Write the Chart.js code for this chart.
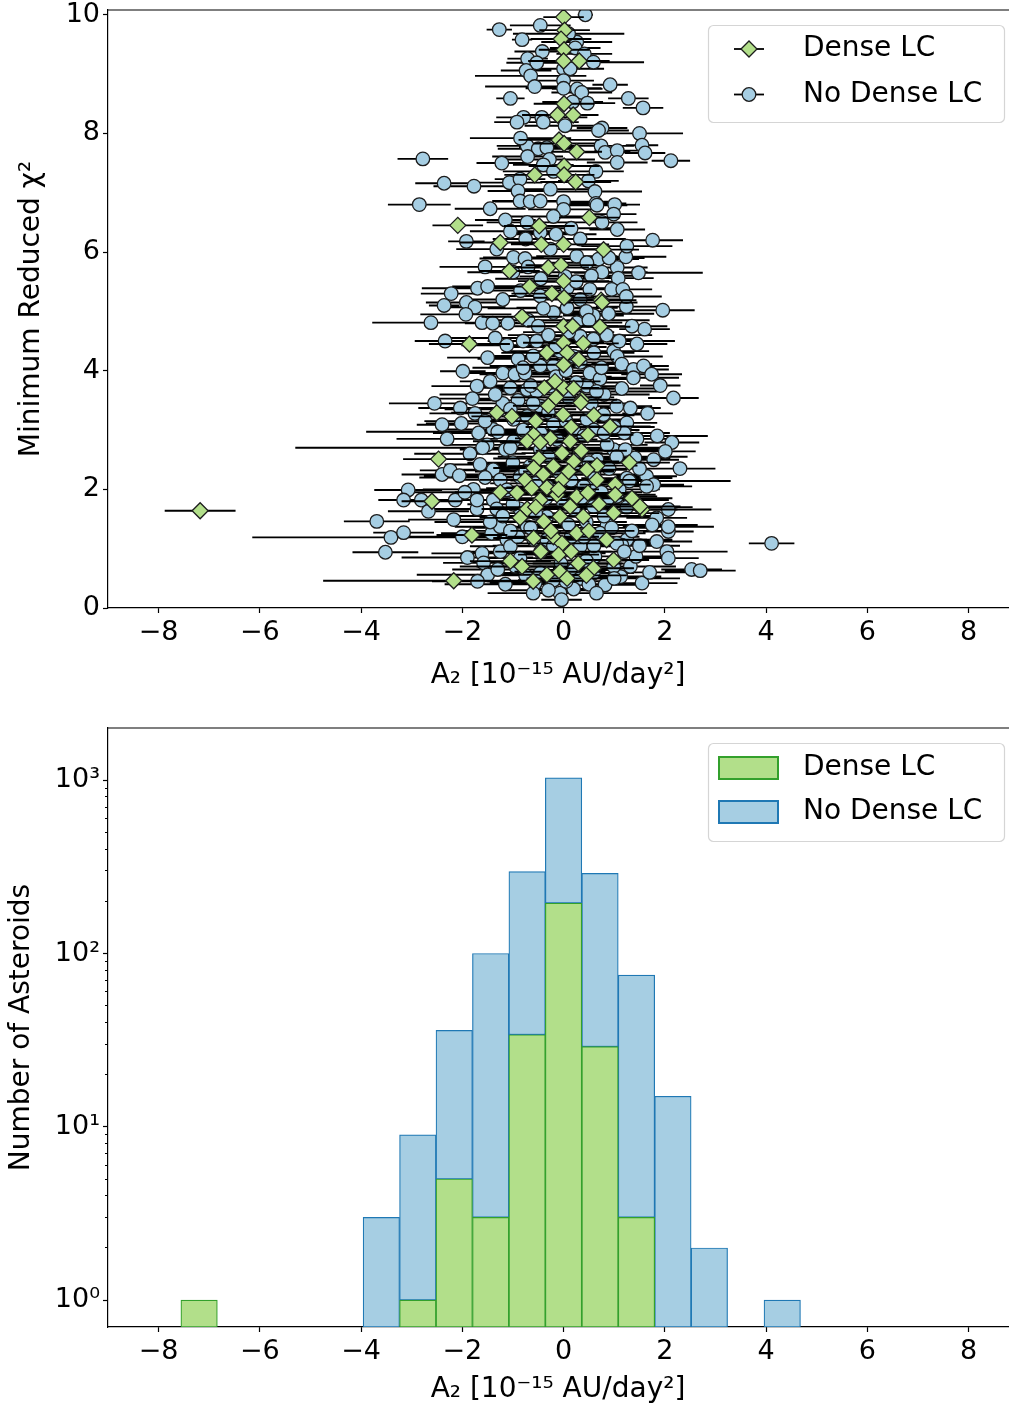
<!DOCTYPE html>
<html>
<head>
<meta charset="utf-8">
<script src="https://cdn.jsdelivr.net/npm/chart.js@4.4.1/dist/chart.umd.min.js"></script>
<style>
  body { margin: 0; background: #fff; }
  canvas { position: absolute; left: 0; }
  #scatterCanvas { top: 0; }
  #histCanvas { top: 710px; }
</style>
</head>
<body>
<canvas id="scatterCanvas" width="1009" height="710"></canvas>
<canvas id="histCanvas" width="1009" height="702"></canvas>
<script>
// ---- tick labels ----
const xTicks = [-8, -6, -4, -2, 0, 2, 4, 6, 8];
const chiTicks = [0, 2, 4, 6, 8, 10];
const countTicks = [1, 10, 100, 1000];
const minorCountTicks = [2, 3, 4, 5, 6, 7, 8, 9, 20, 30, 40, 50, 60, 70, 80, 90, 200, 300, 400, 500, 600, 700, 800, 900];

// ---- top panel: Dense LC (A2, min reduced chi2, A2 error) ----
const denseA2 = [
  0.00, 0.02, -0.05, 0.01, 0.00, 0.31, 0.01, -0.12, 0.19, -0.09,
  0.01, 0.26, -0.57, 0.01, 0.01, 0.24, -2.09, -0.48, 0.51, -1.25,
  -0.44, 0.00, 0.79, -1.07, -0.30, -0.05, 0.00, -0.67, -0.23, 0.01,
  0.74, -0.82, 0.00, 0.18, 0.72, -1.86, 0.00, 0.39, -0.33, 0.07,
  0.30, 0.00, -0.38, 0.00, -0.17, 0.76, 0.36, 0.92, 0.48, 0.66,
  1.02, 0.99, 1.55, 1.35, 0.99, 0.59, 0.29, -1.32, -1.02, -0.30,
  -0.01, 0.34, 0.13, -0.59, -0.26, -0.72, -0.46, -2.47, -0.49, -0.03,
  0.20, -0.59, -0.20, 0.46, -0.76, -0.03, 0.66, -0.92, -0.63, -0.33,
  -0.13, 0.26, 0.48, 1.02, 1.51, -2.60, -0.72, -0.46, 0.13, -0.86,
  -0.39, -0.07, 0.39, -1.81, -0.59, -0.20, 0.26, -0.03, -0.10, -1.05,
  -0.82, -0.33, -0.07, 0.07, -2.17, -7.18, -0.15, 0.20, -0.55, 0.60,
  0.15, -0.40, 0.35, -0.10, 0.10, 0.70, -0.55, -0.25, 0.50, 0.15,
  -0.45, 0.45, -0.60, 0.85, -1.25, 1.30
];
const denseChi2 = [
  9.96, 9.74, 9.59, 9.41, 9.22, 9.22, 8.50, 8.31, 8.31, 7.89,
  7.83, 7.69, 7.30, 7.45, 7.30, 7.18, 6.45, 6.44, 6.58, 6.16,
  6.13, 6.13, 6.04, 5.68, 5.74, 5.78, 5.51, 5.42, 5.30, 5.23,
  5.19, 4.91, 4.75, 4.75, 4.74, 4.45, 4.47, 4.46, 4.30, 4.30,
  4.19, 4.10, 3.71, 3.71, 3.82, 5.15, 3.51, 3.06, 2.92, 2.40,
  2.08, 1.60, 1.66, 1.85, 0.81, 0.67, 0.75, 3.29, 3.23, 3.41,
  3.26, 3.46, 2.81, 2.92, 2.86, 2.81, 2.79, 2.51, 2.52, 2.61,
  2.47, 2.36, 2.39, 2.33, 2.16, 2.16, 2.16, 1.94, 2.02, 2.03,
  1.91, 1.88, 1.94, 1.91, 1.71, 1.80, 1.67, 1.82, 1.71, 1.52,
  1.46, 1.54, 1.54, 1.23, 1.18, 1.20, 1.26, 1.09, 0.90, 0.79,
  0.70, 0.56, 0.61, 0.50, 0.46, 1.64, 3.55, 3.70, 3.15, 3.25,
  3.05, 2.25, 2.65, 2.00, 2.30, 1.75, 1.70, 1.30, 1.30, 0.95,
  0.95, 0.55, 0.45, 1.15, 1.95, 2.45
];
const denseErr = [
  0.4, 0.5, 0.6, 0.5, 0.7, 0.6, 0.6, 0.7, 0.5, 0.8,
  0.6, 0.5, 0.6, 0.7, 0.6, 0.7, 0.5, 0.7, 0.6, 0.8,
  0.6, 0.9, 0.7, 0.6, 0.8, 0.7, 0.9, 0.7, 0.8, 0.6,
  0.7, 0.8, 0.7, 0.9, 0.6, 0.8, 0.8, 0.7, 0.9, 0.8,
  0.7, 0.9, 0.8, 0.7, 0.9, 0.7, 0.7, 0.8, 0.9, 0.8,
  0.7, 0.9, 0.7, 0.8, 0.7, 0.8, 0.9, 0.9, 0.8, 0.7,
  0.9, 0.8, 0.8, 0.9, 0.7, 0.9, 0.8, 0.7, 0.9, 0.8,
  0.9, 0.8, 0.9, 0.8, 0.9, 0.8, 0.9, 0.8, 0.9, 0.8,
  0.9, 0.8, 0.9, 0.8, 0.8, 0.6, 0.9, 0.8, 0.9, 0.8,
  0.9, 0.8, 0.9, 0.7, 0.8, 0.9, 0.8, 0.9, 0.8, 0.8,
  0.9, 0.8, 0.9, 0.8, 2.58, 0.70, 0.9, 0.8, 0.9, 0.8,
  0.9, 0.8, 0.9, 0.8, 0.9, 0.8, 0.9, 0.8, 0.9, 0.8,
  0.9, 0.8, 0.9, 0.8, 0.9, 0.8
];

// ---- top panel: No Dense LC ----
const noDenseA2 = [
  0.43, -1.27, -0.46, -0.82, 0.26, 0.23, -0.42, -0.71, -0.53, 0.41,
  0.59, 0.00, 0.13, -0.74, -0.65, 0.00, 0.92, -0.57, 0.00, 0.27,
  0.36, -1.05, 1.28, 0.47, 1.57, 0.18, -0.79, -0.92, -0.43, -0.40,
  0.76, 0.69, 1.50, 0.03, 1.55, -0.72, -0.50, -0.33, 0.74, 0.82,
  1.06, 1.61, -2.78, -1.22, -0.71, -0.28, -0.40, -0.20, 1.06, 2.12,
  0.64, -2.36, -1.77, -1.07, -0.86, 0.49, 0.62, -0.26, -0.90, -2.85,
  -0.86, -0.66, -0.46, 0.00, 0.64, 1.01, -1.45, 0.10, -0.85, -1.15,
  -1.92, -0.72, 0.99, 0.76, 1.06, 1.76, 0.33, -0.75, -1.32, -0.99,
  -0.76, 1.23, 0.69, 1.48, 1.06, 0.76, 1.08, -2.22, -1.70, -1.50,
  -2.36, -1.92, -1.75, -1.93, -2.62, -1.61, -1.40, 1.96, 1.24, 0.95,
  1.17, 1.24, 0.89, 0.59, 0.33, 0.52, -2.34, -1.12, -0.80, -0.53,
  -1.50, -1.99, -1.20, -0.96, -0.76, -0.46, -0.20, -1.71, -1.45, -1.05,
  -0.72, 0.99, 1.06, 1.15, 1.38, 1.58, 1.74, 1.91, 2.17, 0.52,
  0.72, 1.38, 0.33, 0.07, 0.07, 0.00, 0.66, -0.20, -0.46, -0.26,
  0.26, 0.46, 0.03, -0.46, -0.20, 0.26, 0.59, -0.07, 0.20, 0.33,
  0.46, -0.53, -0.26, -1.00, -2.04, -2.40, -2.02, -1.75, 1.66, 2.14,
  2.01, 1.78, 1.41, 1.64, 1.78, 1.25, -3.07, -3.16, -2.81, -2.14,
  -2.40, -2.24, -2.06, -2.67, -2.17, -3.69, -3.41, -3.16, -3.52, -1.71,
  -1.61, -1.58, -1.25, -0.56, -0.07, -0.04, 0.82, 1.13, 1.32, 2.53,
  2.70, 4.11, 2.04, 2.07, 1.84, 2.07, 2.07, 1.84, 2.07, 1.43,
  1.25, 1.15, 0.86, 1.05, 1.38, 0.59, 0.79, 1.25, 1.20, 0.99,
  1.22, -1.68, -1.51, -1.39, -0.99, -1.15, -1.65, -1.39, -1.25, -1.78,
  -1.71, -1.39, -1.32, -1.12, -1.12, -1.05, -1.42, -1.25, -0.86, -0.46,
  0.20, -0.20, 0.33, 0.59, 0.99, 0.62, 1.05, 1.64, 0.20, -0.33,
  -0.66, -0.46, -0.13, 0.20, 0.46, -0.72, -0.46, -0.99, 1.32, 0.72,
  0.33, -0.07, -0.59, -0.72, -0.33, 0.20, 0.59, 0.86, 0.66, 0.86,
  -0.86, -0.86, -0.33, -1.60, -1.30, 1.30, -1.50, -1.80, -0.90, -0.60,
  -0.30, 0.10, 0.55, 0.80, 1.05, -1.20, -0.80, -0.20, 0.60, 1.00,
  -1.00, 0.30, 0.90, 1.10, -0.55, -0.10, 0.40, 0.75, -1.00, -0.55,
  0.00, 0.45, 0.95, 1.35, -1.20, -0.90, -0.45, 0.15, 0.60, 1.50,
  -1.30, -0.75, 0.50, 1.55, -0.30, 0.20, 1.70, -1.70, -0.90, -0.60,
  -0.30, 0.10, 0.60, 0.85, -1.10, -0.70, 0.45, -1.20, -0.85, 0.25,
  0.55, -0.70, -0.45, 0.90, -1.05, 0.15, -0.15, 1.45, 1.60, 1.35,
  -1.35, -1.05, -0.65, -0.15, 0.25, 0.65, 1.15, -1.55, -0.45, 0.05,
  0.40, 0.80, 1.45, -1.85, -1.05, -0.30, 0.50, 1.05, -1.55, -0.75,
  0.15, 0.60, 1.50, -1.95, -0.35, 0.35, 1.25, -1.45, -0.65, 0.10,
  0.80, 1.75, -2.00, -1.05, -0.20, 0.40, 1.20, -1.90, -0.95, -0.05,
  0.45, 1.00, -1.15, 0.05, -0.60, 0.65, -2.30, -2.55, 1.85, 2.30,
  -0.80, 0.05, 0.75, -1.35, -0.15, 1.10, -0.50, 0.50, -1.55, 1.25,
  -0.40
];
const noDenseChi2 = [
  10.00, 9.75, 9.82, 9.58, 9.54, 9.44, 9.38, 9.26, 9.19, 9.34,
  9.20, 9.09, 9.09, 9.06, 8.97, 8.89, 8.82, 8.79, 8.76, 8.75,
  8.69, 8.59, 8.59, 8.51, 8.43, 8.53, 8.27, 8.19, 8.27, 8.19,
  8.09, 8.05, 8.00, 8.13, 7.80, 7.79, 7.74, 7.76, 7.79, 7.68,
  7.71, 7.67, 7.57, 7.50, 7.61, 7.56, 7.47, 7.36, 7.51, 7.54,
  7.36, 7.16, 7.11, 7.17, 7.23, 7.20, 7.02, 7.06, 7.03, 6.80,
  6.86, 6.85, 6.86, 6.85, 6.82, 6.80, 6.73, 9.68, 7.92, 6.54,
  6.18, 6.50, 6.64, 6.50, 6.38, 6.20, 6.22, 6.22, 6.05, 5.91,
  5.89, 5.92, 5.88, 5.65, 5.74, 5.66, 5.56, 5.30, 5.39, 5.42,
  5.10, 5.15, 5.07, 4.95, 4.81, 4.81, 4.80, 5.02, 5.08, 5.37,
  5.37, 5.25, 4.96, 4.93, 5.20, 5.37, 4.50, 4.43, 4.50, 4.50,
  4.22, 3.99, 3.96, 3.94, 3.96, 4.08, 4.08, 3.74, 3.82, 3.71,
  3.68, 4.33, 4.24, 4.11, 4.02, 4.08, 3.94, 3.75, 3.54, 3.96,
  3.86, 3.88, 4.58, 5.06, 5.39, 6.72, 6.79, 6.60, 6.33, 6.05,
  5.93, 5.82, 5.59, 5.26, 4.98, 4.81, 4.53, 4.33, 4.24, 4.14,
  3.74, 3.65, 3.74, 5.66, 3.37, 3.09, 3.11, 3.28, 3.28, 2.79,
  2.64, 2.50, 2.53, 2.22, 2.08, 2.19, 1.99, 1.82, 1.82, 1.82,
  2.25, 2.32, 2.23, 1.63, 1.49, 1.46, 1.19, 1.27, 0.94, 1.67,
  0.92, 0.76, 0.95, 0.42, 0.25, 0.14, 0.39, 0.53, 0.70, 0.65,
  0.63, 1.09, 0.95, 0.84, 1.12, 1.29, 1.37, 1.52, 1.66, 0.87,
  1.15, 1.06, 1.40, 1.88, 1.82, 2.11, 3.26, 3.12, 2.95, 2.67,
  2.67, 2.95, 2.75, 3.01, 2.81, 2.67, 2.42, 2.33, 2.16, 2.00,
  1.82, 1.82, 1.67, 1.99, 1.15, 1.04, 1.26, 1.37, 0.84, 0.59,
  0.64, 0.47, 0.50, 0.59, 0.70, 0.87, 1.09, 2.05, 2.39, 2.05,
  2.39, 2.67, 2.84, 3.01, 3.18, 3.23, 3.40, 3.18, 3.37, 1.26,
  1.04, 0.92, 1.15, 1.37, 1.54, 1.67, 1.71, 1.82, 2.50, 2.75,
  2.21, 1.67, 1.15, 2.70, 2.97, 2.14, 0.56, 3.53, 3.50, 3.45,
  3.30, 3.55, 3.45, 3.60, 3.40, 3.45, 3.00, 3.10, 3.00, 3.05,
  2.45, 2.60, 2.35, 2.00, 2.10, 2.30, 2.05, 1.95, 1.75, 1.60,
  1.75, 1.45, 1.35, 1.30, 1.55, 1.20, 0.95, 1.20, 1.05, 1.05,
  0.65, 0.55, 0.40, 0.42, 0.30, 0.32, 0.60, 0.45, 4.20, 4.25,
  4.60, 4.65, 4.30, 4.60, 4.80, 4.85, 5.00, 5.20, 5.35, 5.50,
  5.60, 5.75, 5.55, 5.90, 6.35, 6.40, 6.30, 4.45, 4.70, 4.75,
  3.60, 3.35, 3.75, 3.90, 3.80, 3.65, 3.70, 3.15, 2.95, 3.15,
  2.90, 2.95, 2.85, 2.60, 2.70, 2.55, 2.45, 2.55, 2.20, 2.30,
  2.15, 2.25, 2.35, 1.95, 1.85, 1.85, 1.70, 1.45, 1.35, 1.40,
  1.55, 1.40, 1.20, 1.30, 1.05, 1.20, 0.95, 0.85, 0.70, 0.75,
  0.80, 0.50, 0.40, 0.45, 0.25, 0.25, 2.85, 3.45, 2.90, 2.35,
  4.05, 4.00, 4.05, 4.55, 4.40, 4.50, 4.75, 4.85, 5.75, 6.10,
  5.05
];
const noDenseErr = [
  0.15, 0.25, 0.6, 0.2, 0.7, 0.5, 0.55, 0.4, 0.6, 0.55,
  1.0, 0.8, 0.6, 0.5, 1.1, 0.6, 0.35, 0.98, 0.75, 0.5,
  0.6, 0.28, 0.4, 0.55, 0.4, 0.6, 0.5, 0.45, 0.9, 0.7,
  0.5, 0.6, 0.86, 0.8, 0.32, 0.6, 0.8, 0.55, 0.65, 0.5,
  0.45, 0.4, 0.5, 0.5, 0.7, 0.9, 0.6, 1.0, 0.6, 0.38,
  0.55, 0.57, 0.8, 0.65, 0.5, 0.6, 0.93, 0.85, 0.6, 0.62,
  0.55, 0.7, 0.5, 0.9, 0.6, 0.5, 0.7, 1.1, 1.0, 0.6,
  0.36, 0.8, 0.45, 0.7, 0.55, 0.6, 0.9, 0.65, 0.8, 0.6,
  0.9, 0.8, 0.8, 1.27, 0.6, 0.9, 0.7, 0.6, 1.1, 0.7,
  0.3, 0.8, 0.6, 0.9, 1.16, 0.7, 0.55, 0.63, 0.6, 0.8,
  0.55, 0.7, 0.9, 0.6, 0.8, 0.6, 0.6, 0.9, 0.7, 0.6,
  0.8, 0.45, 0.9, 0.7, 0.8, 1.0, 0.6, 0.9, 0.6, 0.8,
  0.7, 0.7, 0.9, 0.6, 0.7, 0.5, 0.6, 0.4, 0.5, 0.8,
  0.7, 0.9, 0.9, 1.0, 0.8, 0.7, 0.6, 0.9, 0.7, 1.0,
  0.8, 0.7, 0.9, 0.8, 0.7, 0.9, 0.8, 1.0, 0.7, 0.9,
  0.8, 0.9, 0.7, 0.9, 0.83, 0.5, 0.7, 0.9, 0.5, 0.54,
  0.6, 0.5, 0.7, 0.6, 0.6, 0.9, 0.67, 0.5, 0.7, 0.9,
  0.8, 0.6, 0.7, 0.8, 0.9, 0.65, 2.74, 0.6, 0.65, 0.9,
  1.0, 0.8, 0.7, 0.9, 0.5, 0.4, 0.6, 0.8, 0.9, 0.6,
  0.7, 0.45, 1.2, 0.6, 0.7, 0.5, 0.9, 0.6, 0.85, 0.7,
  0.9, 0.8, 1.0, 0.8, 0.7, 0.9, 0.8, 0.6, 0.7, 0.9,
  0.8, 0.9, 0.8, 1.0, 0.8, 0.9, 0.7, 0.9, 0.8, 1.0,
  0.8, 0.9, 0.7, 0.8, 0.9, 0.8, 1.0, 0.9, 0.8, 0.9,
  0.8, 0.7, 0.9, 0.8, 0.9, 1.0, 0.8, 0.9, 0.8, 0.9,
  0.8, 0.9, 0.8, 0.9, 0.8, 0.9, 0.8, 0.7, 0.6, 0.9,
  0.8, 0.9, 1.0, 0.8, 0.9, 0.8, 0.9, 0.8, 0.9, 0.8,
  0.9, 0.8, 0.9, 3.7, 2.6, 2.0, 1.4, 0.65, 0.8, 0.9,
  0.8, 0.9, 0.8, 0.9, 0.7, 0.8, 0.9, 0.8, 0.9, 0.8,
  0.9, 0.8, 0.9, 0.8, 0.9, 0.8, 0.9, 0.8, 0.9, 0.8,
  0.9, 0.8, 0.9, 0.8, 0.9, 0.8, 0.9, 0.8, 0.9, 0.8,
  0.9, 0.8, 0.9, 0.7, 0.8, 0.7, 0.8, 0.9, 0.8, 0.9,
  0.8, 0.9, 0.8, 0.9, 0.7, 0.8, 0.9, 0.8, 0.9, 0.8,
  0.9, 0.8, 0.9, 0.7, 0.8, 0.9, 0.8, 0.6, 0.5, 0.7,
  1.1, 1.3, 0.9, 1.1, 0.9, 1.2, 0.8, 1.2, 1.0, 1.1,
  0.9, 1.3, 0.7, 1.1, 1.2, 1.0, 1.1, 1.4, 1.3, 1.0,
  1.2, 0.9, 1.0, 1.2, 1.1, 1.0, 1.3, 1.1, 1.2, 1.0,
  1.1, 0.9, 1.4, 1.0, 1.2, 1.1, 1.2, 1.3, 1.1, 1.2,
  1.0, 1.3, 1.2, 1.0, 0.9, 1.0, 1.0, 0.9, 1.0, 0.7,
  1.0, 1.2, 1.0, 1.1, 1.0, 1.1, 1.0, 1.2, 0.9, 0.9,
  1.1
];

// ---- bottom panel: stacked histogram ----
const binCenters = [-7.20, -6.48, -5.76, -5.04, -4.32, -3.60, -2.88, -2.16, -1.44, -0.72, 0.00, 0.72, 1.44, 2.16, 2.88, 3.60, 4.32];
const denseCounts = [1, 0, 0, 0, 0, 0, 1, 5, 3, 34, 195, 29, 3, 0, 0, 0, 0];
const noDenseCounts = [0, 0, 0, 0, 0, 3, 8, 31, 97, 263, 835, 261, 72, 15, 2, 0, 1];

const fontFamily = "'DejaVu Sans', sans-serif";
const tickFont = { family: fontFamily, size: 27 };
const titleFont = { family: fontFamily, size: 28 };
const xTitle = 'A\u2082 [10\u207b\u00b9\u2075 AU/day\u00b2]';
const supDigits = { 0: '\u2070', 1: '\u00b9', 2: '\u00b2', 3: '\u00b3' };

Chart.defaults.font.family = fontFamily;
Chart.defaults.color = '#000';

function minusLabel(v) {
  return v < 0 ? '\u2212' + Math.abs(v) : String(v);
}
function toPoints(xs, ys) {
  return xs.map((x, i) => ({ x: x, y: ys[i] }));
}
function nullIfZero(v) {
  return v === 0 ? null : v;
}
// keep the plot box where it is, whatever the tick labels need
function fixWidth(w) {
  return axis => { axis.width = w; axis.paddingTop = 0; axis.paddingBottom = 0; };
}
function fixHeight(h) {
  return axis => { axis.height = h; axis.paddingLeft = 0; axis.paddingRight = 0; };
}

// horizontal error bars, drawn just under each dataset's markers
const errorBars = {
  id: 'errorBars',
  beforeDatasetDraw(chart, args) {
    const ds = chart.data.datasets[args.index];
    if (!ds.xErr) return;
    const { ctx, chartArea, scales } = chart;
    ctx.save();
    ctx.beginPath();
    ctx.rect(chartArea.left, chartArea.top, chartArea.width, chartArea.height);
    ctx.clip();
    ctx.strokeStyle = '#000';
    ctx.lineWidth = 1.9;
    ctx.beginPath();
    ds.data.forEach((p, i) => {
      const y = scales.y.getPixelForValue(p.y);
      ctx.moveTo(scales.x.getPixelForValue(p.x - ds.xErr[i]), y);
      ctx.lineTo(scales.x.getPixelForValue(p.x + ds.xErr[i]), y);
    });
    ctx.stroke();
    ctx.restore();
  }
};

const topSpine = {
  id: 'topSpine',
  afterDatasetsDraw(chart) {
    const { ctx, chartArea } = chart;
    ctx.save();
    ctx.strokeStyle = '#000';
    ctx.lineWidth = 1.2;
    ctx.beginPath();
    ctx.moveTo(chartArea.left, chartArea.top);
    ctx.lineTo(chartArea.right + 2, chartArea.top);
    ctx.stroke();
    ctx.restore();
  }
};

function drawMarker(ctx, style, x, y, r) {
  ctx.beginPath();
  if (style === 'rectRot') {
    ctx.moveTo(x - r, y);
    ctx.lineTo(x, y - r);
    ctx.lineTo(x + r, y);
    ctx.lineTo(x, y + r);
    ctx.closePath();
  } else {
    ctx.arc(x, y, r, 0, Math.PI * 2);
  }
  ctx.fill();
  ctx.stroke();
}

// matplotlib-like framed legend in the upper right corner
const boxLegend = {
  id: 'boxLegend',
  afterDraw(chart, args, opts) {
    const ctx = chart.ctx;
    ctx.save();
    ctx.beginPath();
    ctx.roundRect(opts.left, opts.top, opts.width, opts.height, 5);
    ctx.fillStyle = 'rgba(255,255,255,0.8)';
    ctx.fill();
    ctx.strokeStyle = '#d5d5d5';
    ctx.lineWidth = 1.2;
    ctx.stroke();
    ctx.font = '28px ' + fontFamily;
    ctx.textBaseline = 'middle';
    chart.data.datasets.forEach((ds, i) => {
      const y = opts.top + opts.firstRow + i * opts.rowGap;
      if (opts.kind === 'marker') {
        ctx.strokeStyle = '#000';
        ctx.lineWidth = 1.8;
        ctx.beginPath();
        ctx.moveTo(opts.left + 25.5, y);
        ctx.lineTo(opts.left + 55.5, y);
        ctx.stroke();
        ctx.fillStyle = ds.backgroundColor;
        ctx.strokeStyle = ds.borderColor;
        ctx.lineWidth = ds.borderWidth;
        drawMarker(ctx, ds.pointStyle, opts.left + 40.5, y, ds.pointRadius);
      } else {
        ctx.fillStyle = ds.backgroundColor;
        ctx.strokeStyle = ds.borderColor;
        ctx.lineWidth = 2;
        ctx.fillRect(opts.left + 10.5, y - 11, 59, 22);
        ctx.strokeRect(opts.left + 10.5, y - 11, 59, 22);
      }
      ctx.fillStyle = '#000';
      ctx.fillText(ds.label, opts.left + 94.5, y);
    });
    ctx.restore();
  }
};

const axisLine = { color: '#000', width: 1.2 };
const tickMarks = { drawOnChartArea: false, tickLength: 5, tickWidth: 1.2, tickColor: '#000' };

// ---------------- top: min reduced chi2 vs A2 ----------------
new Chart(document.getElementById('scatterCanvas'), {
  type: 'scatter',
  data: {
    datasets: [
      {
        label: 'Dense LC',
        data: toPoints(denseA2, denseChi2),
        xErr: denseErr,
        pointStyle: 'rectRot',
        pointRadius: 8,
        backgroundColor: '#b2df8a',
        borderColor: '#1c1c1c',
        borderWidth: 1.3
      },
      {
        label: 'No Dense LC',
        data: toPoints(noDenseA2, noDenseChi2),
        xErr: noDenseErr,
        pointStyle: 'circle',
        pointRadius: 6.8,
        backgroundColor: '#a6cee3',
        borderColor: '#1c1c1c',
        borderWidth: 1.3
      }
    ]
  },
  options: {
    responsive: false,
    animation: false,
    events: [],
    layout: { autoPadding: false, padding: { top: 10, right: 1, left: 0, bottom: 0 } },
    plugins: {
      legend: { display: false },
      tooltip: { enabled: false },
      boxLegend: { kind: 'marker', left: 708.5, top: 25.5, width: 296, height: 97, firstRow: 23.5, rowGap: 45.5 }
    },
    scales: {
      x: {
        type: 'linear',
        min: -9,
        max: 8.78,
        afterBuildTicks: axis => { axis.ticks = xTicks.map(v => ({ value: v })); },
        afterFit: fixHeight(102),
        ticks: { autoSkip: false, maxRotation: 0, padding: 4, font: tickFont, color: '#000', callback: v => minusLabel(v) },
        grid: tickMarks,
        border: axisLine,
        title: { display: true, text: xTitle, font: titleFont, color: '#000', padding: { top: 0, bottom: 17 } }
      },
      y: {
        type: 'linear',
        min: 0,
        max: 10.08,
        afterBuildTicks: axis => { axis.ticks = chiTicks.map(v => ({ value: v })); },
        afterFit: fixWidth(108),
        ticks: { autoSkip: false, padding: 3, font: tickFont, color: '#000' },
        grid: tickMarks,
        border: axisLine,
        title: { display: true, text: 'Minimum Reduced \u03c7\u00b2', font: titleFont, color: '#000', padding: { top: 15, bottom: 0 } }
      }
    }
  },
  plugins: [errorBars, topSpine, boxLegend]
});

// ---------------- bottom: histogram of A2 ----------------
new Chart(document.getElementById('histCanvas'), {
  type: 'bar',
  data: {
    datasets: [
      {
        label: 'Dense LC',
        data: binCenters.map((c, i) => ({ x: c, y: nullIfZero(denseCounts[i]) })),
        backgroundColor: '#b2df8a',
        borderColor: '#33a02c',
        borderWidth: 1.2,
        borderSkipped: false,
        barPercentage: 1,
        categoryPercentage: 1
      },
      {
        label: 'No Dense LC',
        data: binCenters.map((c, i) => ({ x: c, y: nullIfZero(noDenseCounts[i]) })),
        backgroundColor: '#a6cee3',
        borderColor: '#1f78b4',
        borderWidth: 1.2,
        borderSkipped: false,
        barPercentage: 1,
        categoryPercentage: 1
      }
    ]
  },
  options: {
    responsive: false,
    animation: false,
    events: [],
    layout: { autoPadding: false, padding: { top: 18, right: 1, left: 0, bottom: 0 } },
    plugins: {
      legend: { display: false },
      tooltip: { enabled: false },
      boxLegend: { kind: 'patch', left: 708.5, top: 33.5, width: 296, height: 98, firstRow: 24.5, rowGap: 44 }
    },
    scales: {
      x: {
        type: 'linear',
        min: -9,
        max: 8.78,
        stacked: true,
        offset: false,
        afterBuildTicks: axis => { axis.ticks = xTicks.map(v => ({ value: v })); },
        afterFit: fixHeight(85),
        ticks: { autoSkip: false, maxRotation: 0, padding: 4, font: tickFont, color: '#000', callback: v => minusLabel(v) },
        grid: Object.assign({ offset: false }, tickMarks),
        border: axisLine,
        title: { display: true, text: xTitle, font: titleFont, color: '#000', padding: { top: 0, bottom: 5 } }
      },
      y: {
        type: 'logarithmic',
        min: 0.7,
        max: 2000,
        stacked: true,
        weight: 1,
        afterBuildTicks: axis => { axis.ticks = countTicks.map(v => ({ value: v })); },
        afterFit: fixWidth(108),
        ticks: {
          autoSkip: false, padding: 3, font: tickFont, color: '#000',
          callback: v => '10' + supDigits[Math.round(Math.log10(v))]
        },
        grid: tickMarks,
        border: axisLine,
        title: { display: true, text: 'Number of Asteroids', font: titleFont, color: '#000', padding: { top: 5, bottom: 0 } }
      },
      yMinor: {
        axis: 'y',
        type: 'logarithmic',
        position: 'left',
        min: 0.7,
        max: 2000,
        weight: 0,
        afterBuildTicks: axis => { axis.ticks = minorCountTicks.map(v => ({ value: v })); },
        afterFit: fixWidth(0),
        ticks: { display: false, autoSkip: false },
        grid: { drawOnChartArea: false, tickLength: 3, tickWidth: 1, tickColor: '#000' },
        border: { display: false }
      }
    }
  },
  plugins: [topSpine, boxLegend]
});
</script>
</body>
</html>
